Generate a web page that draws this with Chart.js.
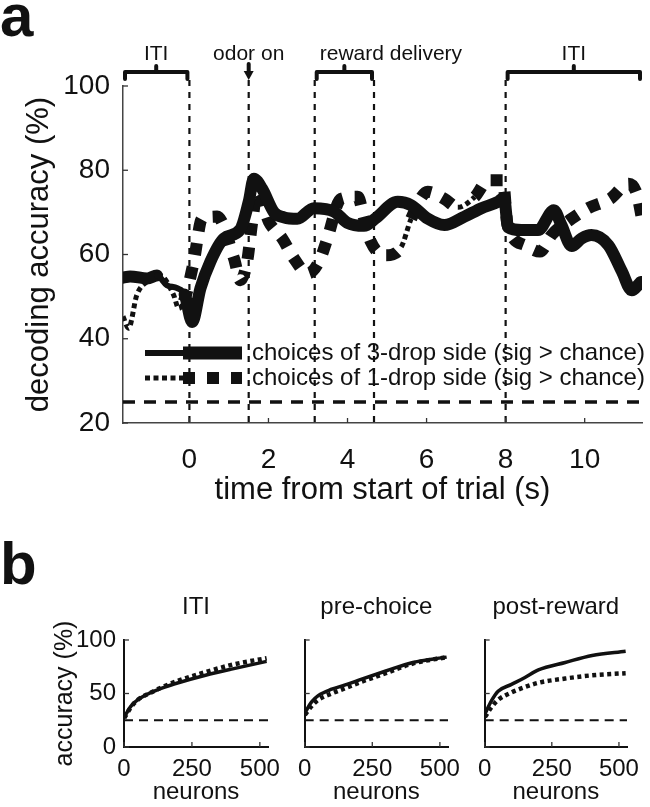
<!DOCTYPE html>
<html>
<head>
<meta charset="utf-8">
<script src="https://cdn.jsdelivr.net/npm/chart.js@4.4.0/dist/chart.umd.min.js"></script>
<style>
  html, body { margin: 0; padding: 0; background: #fff; }
  #wrap { position: relative; width: 650px; height: 807px; overflow: hidden; font-family: "Liberation Sans", Arial, sans-serif; }
  .box { position: absolute; }
  .panel { position: absolute; font-weight: bold; font-size: 60px; line-height: 1; color: #111; }
</style>
</head>
<body>
<div id="wrap">
  <div class="panel" style="left:0px; top:-14px">a</div>
  <div class="panel" style="left:0px; top:534px">b</div>
  <div class="box" style="left:0; top:0; width:650px; height:520px"><canvas id="main"></canvas></div>
  <div class="box" style="left:0; top:585px; width:290px; height:222px"><canvas id="sub0"></canvas></div>
  <div class="box" style="left:290px; top:585px; width:180px; height:222px"><canvas id="sub1"></canvas></div>
  <div class="box" style="left:470px; top:585px; width:180px; height:222px"><canvas id="sub2"></canvas></div>
</div>
<script>
// ---- panel a data ----
const timeA = [-1.68, -1.5, -1.07, -0.82, -0.57, -0.31, -0.12, 0.07, 0.28, 0.53, 0.87, 1.29, 1.5, 1.63, 1.84, 2.14, 2.4, 2.73, 3.15, 3.66, 4.0, 4.42, 4.7, 5.27, 5.61, 6.03, 6.45, 6.96, 7.39, 7.81, 7.96, 8.06, 8.4, 8.82, 9.22, 9.41, 9.67, 9.92, 10.17, 10.6, 10.94, 11.19, 11.42];
const accA  = [54.5, 54.8, 54.3, 55, 52.7, 52, 50.5, 44, 52, 58.3, 63.8, 66, 72.5, 78, 75.6, 70, 68.8, 68.5, 71, 70.2, 67.5, 66.8, 68.5, 72.5, 71.7, 68.5, 67, 69, 71, 72.5, 73.5, 66.5, 65.8, 65.8, 70.5, 67, 62, 63.8, 64.6, 62.2, 56, 51.5, 53.5];
// 1 = significantly above chance (drawn thick)
const sigA  = [1, 1, 1, 0, 0, 0, 1, 1, 1, 1, 1, 1, 1, 1, 1, 1, 1, 1, 1, 1, 1, 1, 1, 1, 1, 1, 1, 1, 1, 1, 1, 1, 1, 1, 1, 1, 1, 1, 1, 1, 1, 1, 1];

const timeB = [-1.68, -1.54, -1.33, -1.07, -0.74, -0.4, -0.27, -0.14, 0.11, 0.32, 0.7, 1.13, 1.29, 1.46, 1.59, 1.72, 2.01, 2.35, 2.65, 2.99, 3.28, 3.49, 3.83, 4.26, 4.42, 4.59, 4.97, 5.36, 5.61, 6.03, 6.45, 6.79, 7.22, 7.56, 7.93, 8.05, 8.49, 8.87, 9.16, 9.67, 10.09, 10.64, 11.11, 11.32, 11.45];
const accB  = [45.3, 42.5, 50.4, 53.6, 55, 50.4, 47.2, 48.8, 58.3, 68.5, 69, 59, 53.9, 58.3, 67.8, 74.9, 67.8, 63.8, 59, 55.5, 58.3, 63.8, 73.2, 73.7, 68.5, 63, 59.8, 61.8, 68.5, 74.9, 73.2, 71.2, 73.7, 77.6, 77.6, 67, 62.2, 60.7, 64.6, 68.5, 71, 73.2, 76.8, 74.4, 68.5];
const sigB  = [0, 0, 0, 0, 0, 0, 0, 1, 1, 1, 1, 1, 1, 1, 1, 1, 1, 1, 1, 1, 1, 1, 1, 1, 1, 1, 1, 0, 1, 1, 1, 0, 1, 1, 1, 1, 1, 1, 1, 1, 1, 1, 1, 1, 1];

const chanceLevel = 25;
const timeRange = [-1.68, 11.45];
const timeTicks = [0, 2, 4, 6, 8, 10];
const accTicks = [20, 40, 60, 80, 100];
const eventTimes = [0, 1.5, 3.17, 4.67, 8];
const odorOn = 1.5;
const periods = [['ITI', -1.68, 0], ['reward delivery', 3.17, 4.67], ['ITI', 8, 11.45]];
const seriesNames = ['choices of 3-drop side (sig > chance)', 'choices of 1-drop side (sig > chance)'];

// ---- panel b data ----
const neurons = [1, 25, 50, 100, 150, 200, 300, 400, 525];
const subTitles = ['ITI', 'pre-choice', 'post-reward'];
const iti3  = [28, 38, 44, 51, 56, 60, 67, 73, 80];
const iti1  = [27, 37, 44, 51, 57, 62, 70, 77, 83];
const pre3  = [32, 42, 48, 54, 58, 62.5, 71, 79, 84];
const pre1  = [30, 38, 44, 50, 55, 60, 69, 78, 84];
const post3 = [31, 43, 52, 58.5, 65, 72, 79, 85.5, 89.5];
const post1 = [28, 37, 44, 51, 56, 60, 64, 67, 69];
const neuronTicks = [0, 250, 500];
const subAccTicks = [0, 50, 100];

const FONT = '"Liberation Sans", Arial, Helvetica, sans-serif';
const INK = '#111';

function pts(xs, ys) { return xs.map((x, i) => ({ x: x, y: ys[i] })); }

// small inward tick marks, MATLAB style
const inTicks = {
  id: 'inTicks',
  afterDraw(chart) {
    const { ctx, chartArea: a, scales: { x, y } } = chart;
    ctx.save();
    ctx.strokeStyle = '#333';
    ctx.lineWidth = 1.3;
    x.ticks.forEach(t => {
      const p = x.getPixelForValue(t.value);
      ctx.beginPath(); ctx.moveTo(p, a.bottom); ctx.lineTo(p, a.bottom - 5); ctx.stroke();
    });
    y.ticks.forEach(t => {
      const p = y.getPixelForValue(t.value);
      ctx.beginPath(); ctx.moveTo(a.left, p); ctx.lineTo(a.left + 5, p); ctx.stroke();
    });
    ctx.restore();
  }
};

const trialMarks = {
  id: 'trialMarks',
  beforeDatasetsDraw(chart) {
    const { ctx, chartArea: a, scales: { x } } = chart;
    ctx.save();
    ctx.strokeStyle = INK;
    ctx.lineWidth = 2.2;
    ctx.setLineDash([6, 6]);
    eventTimes.forEach(t => {
      const p = x.getPixelForValue(t);
      ctx.beginPath(); ctx.moveTo(p, a.top - 6); ctx.lineTo(p, a.bottom); ctx.stroke();
    });
    ctx.restore();
  },
  afterDraw(chart) {
    const { ctx, chartArea: a, scales: { x } } = chart;
    const by = a.top - 14;
    ctx.save();
    ctx.strokeStyle = INK;
    ctx.fillStyle = INK;
    ctx.lineWidth = 4;
    ctx.lineJoin = 'round';
    ctx.lineCap = 'round';
    ctx.font = '21px ' + FONT;
    ctx.textBaseline = 'middle';
    periods.forEach(([label, t0, t1]) => {
      const p0 = x.getPixelForValue(t0) + 2, p1 = x.getPixelForValue(t1) - 2, pc = (p0 + p1) / 2;
      ctx.beginPath(); ctx.moveTo(p0, by + 7); ctx.lineTo(p0, by); ctx.lineTo(p1, by); ctx.lineTo(p1, by + 7); ctx.stroke();
      ctx.beginPath(); ctx.moveTo(pc, by); ctx.lineTo(pc, by - 6); ctx.stroke();
      if (label === 'reward delivery') {
        ctx.textAlign = 'left';
        ctx.fillText(label, p0 + 3, by - 18);
      } else {
        ctx.textAlign = 'center';
        ctx.fillText(label, pc, by - 18);
      }
    });
    // odor on arrow
    const po = x.getPixelForValue(odorOn);
    ctx.beginPath(); ctx.moveTo(po, by - 8); ctx.lineTo(po, by); ctx.stroke();
    ctx.beginPath(); ctx.moveTo(po - 5, by - 1); ctx.lineTo(po + 5, by - 1); ctx.lineTo(po, by + 8); ctx.closePath(); ctx.fill();
    ctx.textAlign = 'center';
    ctx.fillText('odor on', po, by - 18);

    // legend
    const rows = [353, 378];
    const lx0 = 145, lx1 = 183, lx2 = 242;
    ctx.lineCap = 'butt';
    ctx.setLineDash([]);
    ctx.lineWidth = 6;
    ctx.beginPath(); ctx.moveTo(lx0, rows[0]); ctx.lineTo(lx1, rows[0]); ctx.stroke();
    ctx.lineWidth = 13;
    ctx.beginPath(); ctx.moveTo(lx1, rows[0]); ctx.lineTo(lx2, rows[0]); ctx.stroke();
    ctx.lineWidth = 5;
    ctx.setLineDash([5, 3.5]);
    ctx.beginPath(); ctx.moveTo(lx0, rows[1]); ctx.lineTo(lx1, rows[1]); ctx.stroke();
    ctx.lineWidth = 12;
    ctx.setLineDash([12, 12]);
    ctx.beginPath(); ctx.moveTo(lx1, rows[1]); ctx.lineTo(lx2, rows[1]); ctx.stroke();
    ctx.setLineDash([]);
    ctx.font = '24px ' + FONT;
    ctx.textAlign = 'left';
    seriesNames.forEach((s, i) => ctx.fillText(s, 252, rows[i]));
    ctx.restore();
  }
};

new Chart(document.getElementById('main'), {
  type: 'line',
  data: {
    datasets: [
      {
        data: pts(timeA, accA),
        borderColor: INK,
        borderWidth: 12,
        pointRadius: 0,
        cubicInterpolationMode: 'monotone',
        borderJoinStyle: 'round',
        borderCapStyle: 'round',
        segment: { borderWidth: c => sigA[c.p0DataIndex] ? 12 : 6 }
      },
      {
        data: pts(timeB, accB),
        borderColor: INK,
        borderWidth: 12,
        borderDash: [12, 12],
        borderCapStyle: 'butt',
        pointRadius: 0,
        cubicInterpolationMode: 'monotone',
        segment: {
          borderWidth: c => sigB[c.p0DataIndex] ? 12 : 5,
          borderDash: c => sigB[c.p0DataIndex] ? [12, 12] : [5, 3.5]
        }
      },
      {
        data: [{ x: timeRange[0], y: chanceLevel }, { x: timeRange[1], y: chanceLevel }],
        borderColor: INK,
        borderWidth: 3.5,
        borderDash: [12, 9],
        pointRadius: 0
      }
    ]
  },
  options: {
    responsive: true,
    maintainAspectRatio: false,
    animation: false,
    events: [],
    layout: { padding: { top: 86, right: 8, left: 0, bottom: 0 } },
    plugins: { legend: { display: false }, tooltip: { enabled: false } },
    scales: {
      x: {
        type: 'linear',
        min: timeRange[0],
        max: timeRange[1],
        afterBuildTicks: s => { s.ticks = timeTicks.map(v => ({ value: v })); },
        afterFit: s => { s.height = 97; },
        grid: { display: false, drawTicks: false },
        border: { display: true, color: '#444', width: 1.5 },
        ticks: { color: INK, font: { family: FONT, size: 28 }, padding: 20, autoSkip: false, maxRotation: 0 },
        title: { display: true, text: 'time from start of trial (s)', color: INK, font: { family: FONT, size: 31 }, padding: { top: 0, bottom: 11 } }
      },
      y: {
        min: 20,
        max: 100,
        afterBuildTicks: s => { s.ticks = accTicks.map(v => ({ value: v })); },
        afterFit: s => { s.width = 123; },
        grid: { display: false, drawTicks: false },
        border: { display: true, color: '#444', width: 1.5 },
        ticks: { color: INK, font: { family: FONT, size: 28 }, padding: 13 },
        title: { display: true, text: 'decoding accuracy (%)', color: INK, font: { family: FONT, size: 31 }, padding: { top: 21, bottom: 0 } }
      }
    }
  },
  plugins: [trialMarks, inTicks]
});

// ---- panel b ----
const panelTitle = {
  id: 'panelTitle',
  afterDraw(chart, args, opts) {
    const { ctx, chartArea: a } = chart;
    ctx.save();
    ctx.fillStyle = INK;
    ctx.font = '24px ' + FONT;
    ctx.textAlign = 'center';
    ctx.textBaseline = 'middle';
    ctx.fillText(opts.text, (a.left + a.right) / 2, 22);
    ctx.restore();
  }
};

function makeSub(id, title, solid, dotted, axisW, padRight, showY) {
  new Chart(document.getElementById(id), {
    type: 'line',
    data: {
      datasets: [
        { data: pts(neurons, solid), borderColor: INK, borderWidth: 3.5, pointRadius: 0, cubicInterpolationMode: 'monotone', borderJoinStyle: 'round' },
        { data: pts(neurons, dotted), borderColor: INK, borderWidth: 4.5, borderDash: [4, 3.5], pointRadius: 0, cubicInterpolationMode: 'monotone' },
        { data: [{ x: 0, y: chanceLevel }, { x: 530, y: chanceLevel }], borderColor: INK, borderWidth: 2, borderDash: [9, 6], pointRadius: 0 }
      ]
    },
    options: {
      responsive: true,
      maintainAspectRatio: false,
      animation: false,
      events: [],
      layout: { padding: { top: 55, right: padRight, left: 0, bottom: 0 } },
      plugins: { legend: { display: false }, tooltip: { enabled: false }, panelTitle: { text: title } },
      scales: {
        x: {
          type: 'linear',
          min: 0,
          max: 530,
          afterBuildTicks: s => { s.ticks = neuronTicks.map(v => ({ value: v })); },
          afterFit: s => { s.height = 60; },
          grid: { display: false, drawTicks: false },
          border: { display: true, color: INK, width: 2 },
          ticks: { color: INK, font: { family: FONT, size: 24 }, padding: 8, autoSkip: false, maxRotation: 0 },
          title: { display: true, text: 'neurons', color: INK, font: { family: FONT, size: 24 }, padding: { top: 0, bottom: 0 } }
        },
        y: {
          min: 0,
          max: 100,
          afterBuildTicks: s => { s.ticks = subAccTicks.map(v => ({ value: v })); },
          afterFit: s => { s.width = axisW; },
          grid: { display: false, drawTicks: false },
          border: { display: true, color: INK, width: 2 },
          ticks: { display: showY, color: INK, font: { family: FONT, size: 24 }, padding: 8 },
          title: { display: showY, text: 'accuracy (%)', color: INK, font: { family: FONT, size: 25 }, padding: { top: 50, bottom: 0 } }
        }
      }
    },
    plugins: [panelTitle, inTicks]
  });
}

makeSub('sub0', subTitles[0], iti3, iti1, 124, 22, true);
makeSub('sub1', subTitles[1], pre3, pre1, 14, 22, false);
makeSub('sub2', subTitles[2], post3, post1, 13, 23, false);
</script>
</body>
</html>
